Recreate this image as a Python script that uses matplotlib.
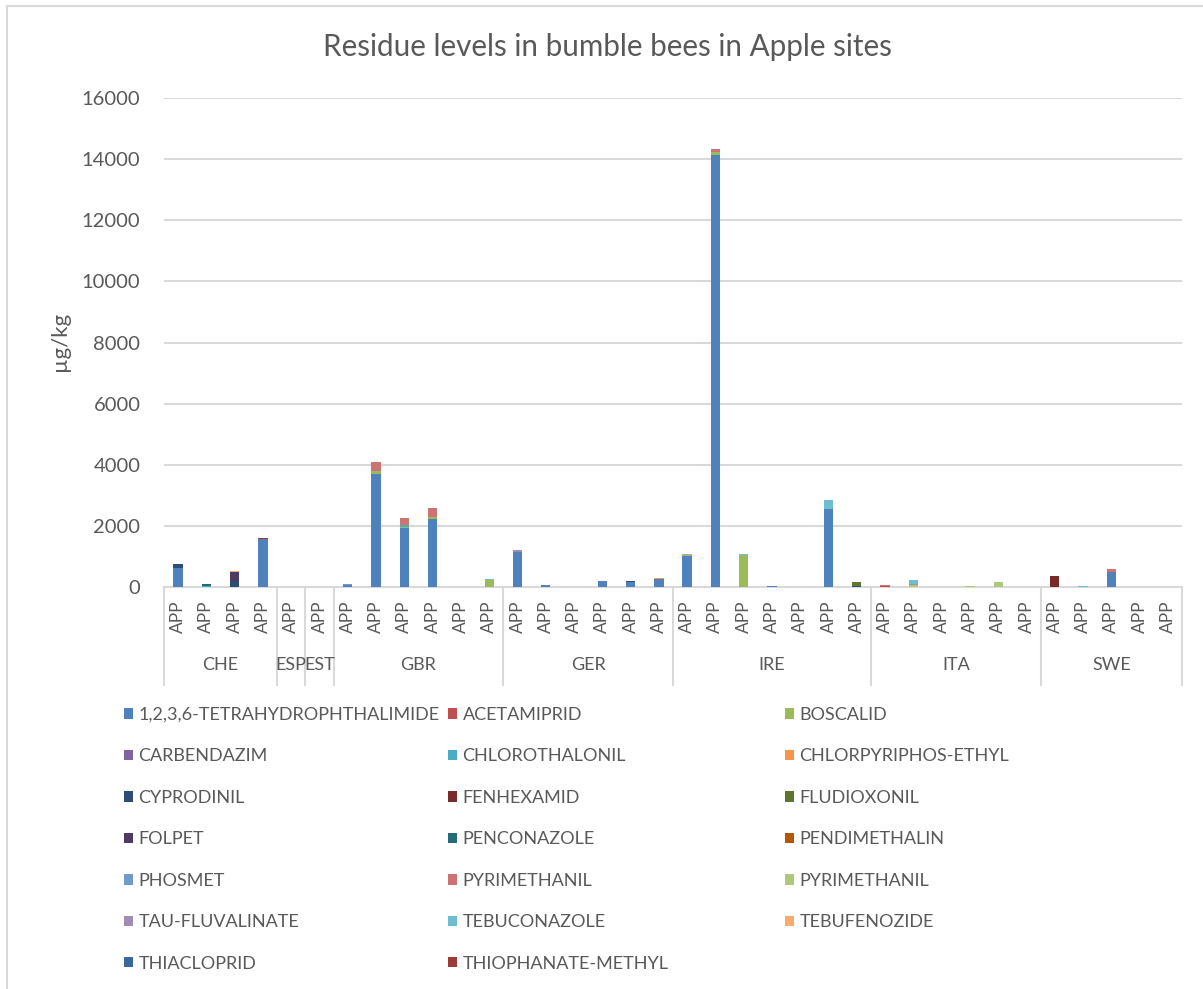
import numpy as np
import matplotlib.pyplot as plt
from matplotlib.lines import Line2D
from matplotlib.patches import Patch
import matplotlib.transforms as mtransforms

plt.rcParams['font.family'] = ['Lato', 'DejaVu Sans']

# country groups and the number of apple sites sampled in each
countries = ["CHE", "ESP", "EST", "GBR", "GER", "IRE", "ITA", "SWE"]
sites_per_country = [4, 1, 1, 6, 6, 7, 6, 5]
site_label = "APP"

compounds = [
    "1,2,3,6-TETRAHYDROPHTHALIMIDE", "ACETAMIPRID", "BOSCALID",
    "CARBENDAZIM", "CHLOROTHALONIL", "CHLORPYRIPHOS-ETHYL",
    "CYPRODINIL", "FENHEXAMID", "FLUDIOXONIL",
    "FOLPET", "PENCONAZOLE", "PENDIMETHALIN",
    "PHOSMET", "PYRIMETHANIL", "PYRIMETHANIL",
    "TAU-FLUVALINATE", "TEBUCONAZOLE", "TEBUFENOZIDE",
    "THIACLOPRID", "THIOPHANATE-METHYL",
]
colors = [
    "#4F81BD", "#C0504D", "#9BBB59",
    "#8064A2", "#4BACC6", "#F79646",
    "#2C4D75", "#772C2A", "#5F7530",
    "#4D3B62", "#276A7C", "#B65708",
    "#729ACA", "#CD7371", "#AFC97A",
    "#A18CB5", "#6FBDD1", "#F9AB6B",
    "#3A679C", "#9E3A38",
]

# residues in ug/kg per site, ordered CHE | ESP | EST | GBR | GER | IRE | ITA | SWE
tetrahydrophthalimide = [610, 0, 0, 1560,  0,  0,  60, 3685, 1920, 2210, 0, 0,
                         1150, 60, 0, 190, 160, 260,  1020, 14150, 0, 45, 0, 2540, 0,
                         0, 0, 0, 0, 0, 0,  0, 0, 500, 0, 0]
acetamiprid = [0, 0, 0, 0,  0,  0,  0, 0, 0, 0, 0, 0,  0, 0, 0, 0, 0, 0,
               0, 0, 0, 0, 0, 0, 0,  30, 0, 0, 0, 0, 0,  0, 0, 0, 0, 0]
boscalid = [0, 0, 0, 0,  0,  0,  0, 100, 50, 90, 0, 240,  0, 0, 0, 0, 0, 0,
            0, 85, 1060, 0, 0, 0, 0,  0, 0, 0, 0, 0, 0,  0, 0, 0, 0, 0]
carbendazim = [0] * 36
chlorothalonil = [0, 20, 0, 0,  0,  0,  0, 0, 55, 0, 0, 0,  0, 0, 0, 0, 0, 0,
                  0, 0, 0, 0, 0, 0, 0,  0, 0, 0, 0, 0, 0,  0, 0, 0, 0, 0]
chlorpyriphos_ethyl = [0, 0, 0, 0,  0,  0,  0, 0, 0, 0, 0, 0,  0, 0, 0, 0, 0, 40,
                       35, 0, 0, 0, 0, 0, 0,  0, 0, 0, 0, 0, 0,  0, 0, 0, 0, 0]
cyprodinil = [140, 0, 190, 0,  0,  0,  0, 0, 0, 0, 0, 0,  0, 0, 0, 0, 20, 0,
              0, 0, 0, 0, 0, 0, 40,  0, 0, 0, 0, 0, 0,  0, 0, 0, 0, 0]
fenhexamid = [0, 0, 0, 0,  0,  0,  0, 0, 0, 0, 0, 0,  0, 0, 0, 0, 0, 0,
              0, 0, 0, 0, 0, 0, 0,  0, 0, 0, 0, 0, 0,  360, 0, 0, 0, 0]
fludioxonil = [0, 0, 0, 0,  0,  0,  0, 0, 0, 0, 0, 0,  0, 0, 0, 0, 0, 0,
               0, 0, 0, 0, 0, 0, 130,  0, 0, 0, 0, 0, 0,  0, 0, 0, 0, 0]
folpet = [0, 0, 290, 0,  0,  0,  0, 0, 0, 0, 0, 0,  0, 0, 0, 0, 0, 0,
          0, 0, 0, 0, 0, 0, 0,  0, 0, 0, 0, 0, 0,  0, 0, 0, 0, 0]
penconazole = [0, 80, 0, 0,  0,  0,  0, 0, 0, 0, 0, 0,  0, 0, 0, 0, 0, 0,
               0, 0, 0, 0, 0, 0, 0,  0, 0, 0, 0, 0, 0,  0, 0, 0, 0, 0]
pendimethalin = [0] * 36
phosmet = [0, 0, 0, 0,  0,  0,  30, 0, 0, 0, 0, 0,  0, 20, 0, 0, 0, 0,
           0, 0, 0, 0, 0, 0, 0,  0, 0, 0, 0, 0, 0,  0, 0, 0, 0, 0]
pyrimethanil_a = [0, 0, 0, 0,  0,  0,  0, 300, 220, 280, 0, 0,  0, 0, 0, 0, 0, 0,
                  0, 85, 0, 0, 0, 0, 0,  30, 0, 0, 0, 0, 0,  0, 0, 90, 0, 0]
pyrimethanil_b = [0, 0, 0, 0,  0,  0,  0, 0, 0, 0, 0, 0,  0, 0, 0, 0, 0, 0,
                  0, 0, 0, 0, 0, 0, 0,  0, 60, 0, 20, 150, 0,  0, 0, 0, 0, 0]
tau_fluvalinate = [0, 0, 0, 0,  0,  0,  0, 0, 0, 0, 0, 0,  50, 0, 0, 0, 0, 0,
                   0, 0, 0, 0, 0, 0, 0,  0, 30, 0, 0, 20, 0,  0, 0, 0, 0, 0]
tebuconazole = [0, 0, 0, 0,  0,  0,  0, 0, 0, 0, 0, 20,  0, 0, 0, 0, 0, 0,
                25, 0, 10, 0, 0, 320, 0,  20, 140, 0, 0, 0, 0,  0, 25, 0, 0, 0]
tebufenozide = [0, 0, 40, 0,  0,  0,  0, 0, 0, 0, 0, 0,  0, 0, 0, 0, 0, 0,
                0, 0, 0, 0, 0, 0, 0,  0, 0, 0, 0, 0, 0,  0, 0, 0, 0, 0]
thiacloprid = [0] * 36
thiophanate_methyl = [0, 0, 0, 40,  0,  0,  0, 0, 0, 0, 0, 0,  0, 0, 0, 0, 0, 0,
                      0, 0, 0, 0, 0, 0, 0,  0, 0, 0, 0, 0, 0,  0, 0, 0, 0, 0]

series = [
    tetrahydrophthalimide, acetamiprid, boscalid,
    carbendazim, chlorothalonil, chlorpyriphos_ethyl,
    cyprodinil, fenhexamid, fludioxonil,
    folpet, penconazole, pendimethalin,
    phosmet, pyrimethanil_a, pyrimethanil_b,
    tau_fluvalinate, tebuconazole, tebufenozide,
    thiacloprid, thiophanate_methyl,
]

W, H = 1203, 989
fig = plt.figure(figsize=(W / 100, H / 100), dpi=100)
ax = fig.add_axes([164 / W, 1 - 587 / H, (1182 - 164) / W, (587 - 98) / H])

text_col = "#595959"
grid_col = "#D9D9D9"

n_sites = sum(sites_per_country)
x = np.arange(n_sites)
bottom = np.zeros(n_sites)
for vals, col in zip(series, colors):
    vals = np.array(vals, dtype=float)
    ax.bar(x, vals, width=0.33, bottom=bottom, color=col, linewidth=0, zorder=3)
    bottom += vals

ax.set_xlim(-0.5, n_sites - 0.5)
ax.set_ylim(0, 16000)
ax.set_yticks(np.arange(0, 16001, 2000))
ax.yaxis.grid(True, color=grid_col, linewidth=1.5, zorder=0)
ax.tick_params(axis="y", length=0, pad=17, labelsize=14.5, labelcolor=text_col)
ax.set_xticks(x)
ax.set_xticklabels([site_label] * n_sites, rotation=90, fontsize=12.5, color=text_col)
ax.tick_params(axis="x", length=0, pad=10)
for side in ["left", "right", "top"]:
    ax.spines[side].set_visible(False)
ax.spines["bottom"].set_color(grid_col)
ax.spines["bottom"].set_linewidth(1.5)

# second level of the category axis: country names and separators
trans = mtransforms.blended_transform_factory(ax.transData, fig.transFigure)
edges = np.concatenate([[0], np.cumsum(sites_per_country)]) - 0.5
ax.vlines(edges, 1 - 686 / H, 1 - 587 / H, transform=trans, colors=grid_col,
          linewidth=1.5, clip_on=False)
for name, lo, hi in zip(countries, edges[:-1], edges[1:]):
    ax.text((lo + hi) / 2, 1 - 665 / H, name, transform=trans, ha="center",
            va="center", fontsize=13, color=text_col)

fig.text(607 / W, 1 - 47 / H, "Residue levels in bumble bees in Apple sites",
         ha="center", va="center", fontsize=21.3, color=text_col)
fig.text(60 / W, 1 - 341 / H, "µg/kg", rotation=90, ha="center", va="center",
         fontsize=16, color=text_col)

# legend laid out in three columns, filled row by row
handles = [Patch(facecolor=c, edgecolor="none") for c in colors]
col_x = [124, 448, 785]
for c, cx in enumerate(col_x):
    fig.legend(handles[c::3], compounds[c::3], loc="upper left",
               bbox_to_anchor=(cx / W, 1 - 707 / H), frameon=False,
               borderpad=0, borderaxespad=0, handlelength=0.5, handleheight=0.5,
               handletextpad=0.3, labelspacing=1.41, fontsize=13,
               labelcolor=text_col)

# chart area border
fig.add_artist(Line2D([7 / W, 7 / W], [0, 1 - 6 / H], color=grid_col, linewidth=1.5))
fig.add_artist(Line2D([7 / W, 1], [1 - 6 / H, 1 - 6 / H], color=grid_col, linewidth=1.5))

fig.savefig("out.png", dpi=100, facecolor="white")
